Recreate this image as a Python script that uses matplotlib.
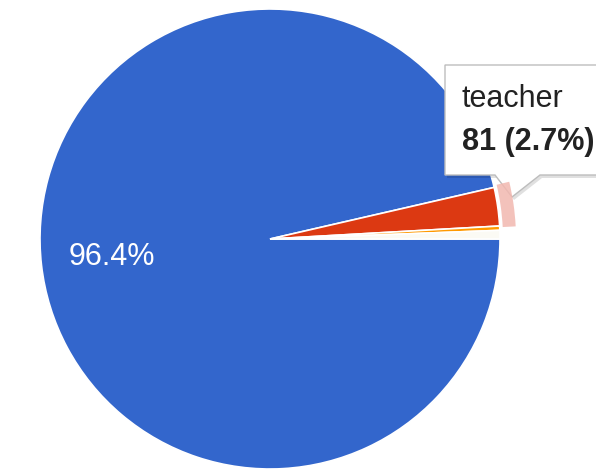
import matplotlib
matplotlib.use("Agg")
import matplotlib.pyplot as plt
from matplotlib.patches import Wedge, Polygon

# data
categories = ["other", "teacher", "minor", "rest"]
values = [2892, 81, 9, 18]
colors = ["#3366cc", "#dc3912", "#ff9900", "#fbfaf4"]
highlight = "teacher"

W, H = 596, 474
fig = plt.figure(figsize=(W / 100, H / 100), dpi=100)
ax = fig.add_axes([0, 0, 1, 1])

cx, cy, R = 270, 239, 230
total = sum(values)

wedges, texts, autotexts = ax.pie(
    values, colors=colors, startangle=0, counterclock=True,
    center=(cx, cy), radius=R,
    autopct=lambda p: f"{p:.1f}%" if p > 50 else "",
    pctdistance=0.69,
    wedgeprops=dict(edgecolor="white", linewidth=1.2),
    textprops=dict(color="white", fontsize=22, family="Liberation Sans"),
)
ax.set_xlim(0, W)
ax.set_ylim(H, 0)
ax.set_aspect("auto")
ax.axis("off")

# highlight halo on hovered slice
hi = categories.index(highlight)
w = wedges[hi]
ax.add_patch(Wedge((cx, cy), R + 16, w.theta1 - 0.5, w.theta2 + 0.3, width=13,
                   facecolor="#f2b8b0", edgecolor="none", alpha=0.85, zorder=6))

# tooltip
shadow = Polygon([(447, 68), (600, 68), (600, 178), (542, 178), (514, 200),
                  (497, 178), (447, 178)], closed=True,
                 facecolor="#000000", alpha=0.12, edgecolor="none", zorder=4)
ax.add_patch(shadow)
tip = Polygon([(445, 65), (600, 65), (600, 175), (540, 175), (512, 197),
               (495, 175), (445, 175)], closed=True,
              facecolor="white", edgecolor="#bdbdbd", linewidth=1, zorder=5)
ax.add_patch(tip)

pct = values[hi] / total * 100
ax.text(462, 107, highlight, fontsize=22, family="Liberation Sans",
        color="#222222", ha="left", va="baseline", zorder=7)
ax.text(462, 150, f"{values[hi]} ({pct:.1f}%)", fontsize=22, fontweight="bold",
        family="Liberation Sans", color="#222222", ha="left", va="baseline", zorder=7)

fig.savefig("out.png", dpi=100)
